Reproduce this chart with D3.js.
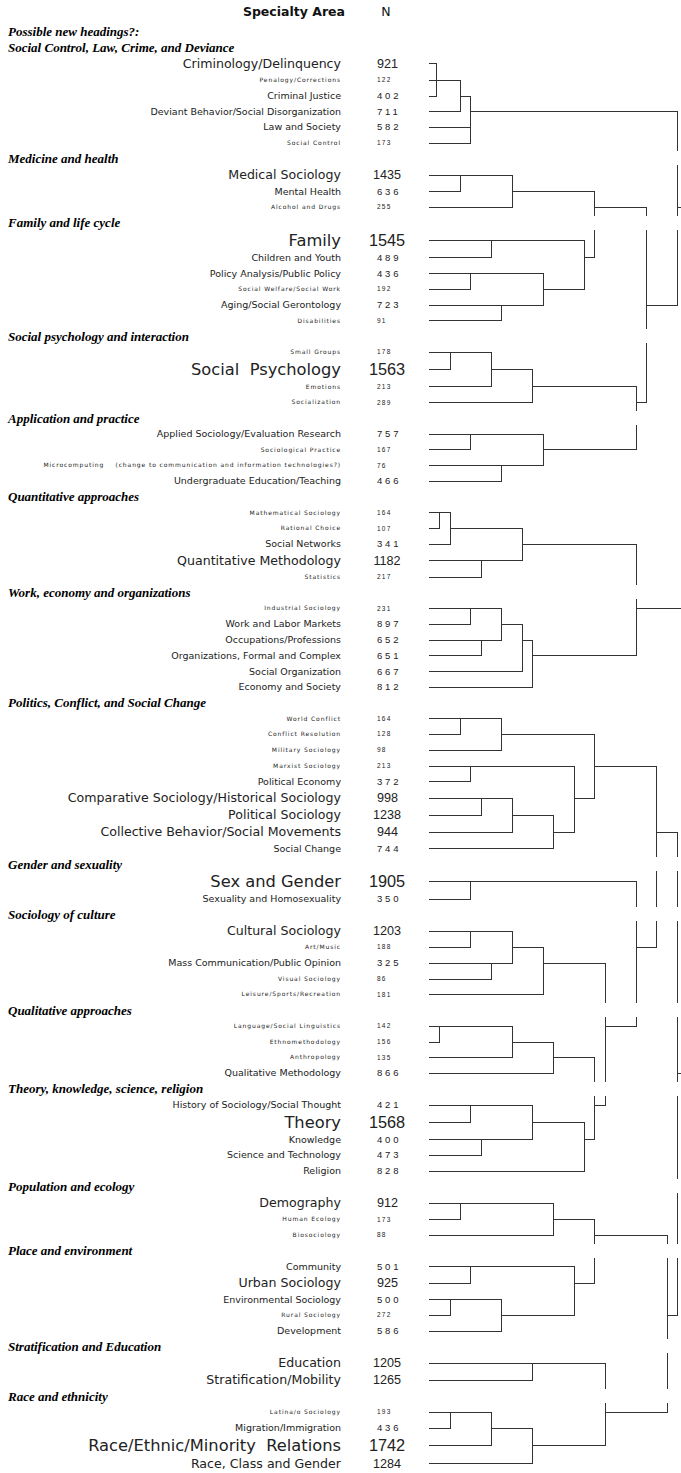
<!DOCTYPE html>
<html><head><meta charset="utf-8">
<script src="https://cdn.jsdelivr.net/npm/d3@7"></script>
<style>
html,body{margin:0;padding:0;background:#fff;}
svg{display:block;background:#fff;}
text{white-space:pre;}
</style></head><body>
<svg id="chart" width="681" height="1473"></svg>
<script>
// ---------------- DATA ----------------
const columnHeaders = ["Specialty Area", "N"];
const preface = "Possible new headings?:";
const groupHeadings = [
  "Social Control, Law, Crime, and Deviance",
  "Medicine and health",
  "Family and life cycle",
  "Social psychology and interaction",
  "Application and practice",
  "Quantitative approaches",
  "Work, economy and organizations",
  "Politics, Conflict, and Social Change",
  "Gender and sexuality",
  "Sociology of culture",
  "Qualitative approaches",
  "Theory, knowledge, science, religion",
  "Population and ecology",
  "Place and environment",
  "Stratification and Education",
  "Race and ethnicity"
];
const groupSizes = [6,3,6,4,4,5,6,9,2,5,4,5,3,5,2,4];
const specialties = [
  "Criminology/Delinquency","Penalogy/Corrections","Criminal Justice","Deviant Behavior/Social Disorganization","Law and Society","Social Control",
  "Medical Sociology","Mental Health","Alcohol and Drugs",
  "Family","Children and Youth","Policy Analysis/Public Policy","Social Welfare/Social Work","Aging/Social Gerontology","Disabilities",
  "Small Groups","Social  Psychology","Emotions","Socialization",
  "Applied Sociology/Evaluation Research","Sociological Practice","Microcomputing    (change to communication and information technologies?)","Undergraduate Education/Teaching",
  "Mathematical Sociology","Rational Choice","Social Networks","Quantitative Methodology","Statistics",
  "Industrial Sociology","Work and Labor Markets","Occupations/Professions","Organizations, Formal and Complex","Social Organization","Economy and Society",
  "World Conflict","Conflict Resolution","Military Sociology","Marxist Sociology","Political Economy","Comparative Sociology/Historical Sociology","Political Sociology","Collective Behavior/Social Movements","Social Change",
  "Sex and Gender","Sexuality and Homosexuality",
  "Cultural Sociology","Art/Music","Mass Communication/Public Opinion","Visual Sociology","Leisure/Sports/Recreation",
  "Language/Social Linguistics","Ethnomethodology","Anthropology","Qualitative Methodology",
  "History of Sociology/Social Thought","Theory","Knowledge","Science and Technology","Religion",
  "Demography","Human Ecology","Biosociology",
  "Community","Urban Sociology","Environmental Sociology","Rural Sociology","Development",
  "Education","Stratification/Mobility",
  "Latina/o Sociology","Migration/Immigration","Race/Ethnic/Minority  Relations","Race, Class and Gender"
];
const counts = [
  921,122,402,711,582,173,
  1435,636,255,
  1545,489,436,192,723,91,
  178,1563,213,289,
  757,167,76,466,
  164,107,341,1182,217,
  231,897,652,651,667,812,
  164,128,98,213,372,998,1238,944,744,
  1905,350,
  1203,188,325,86,181,
  142,156,135,866,
  421,1568,400,473,828,
  912,173,88,
  501,925,500,272,586,
  1205,1265,
  193,436,1742,1284
];
// Cluster tree: [rescaled distance (0-25), ...children]; a number is a specialty index.
const mergeTree = [26,
  [24,
    [4, [3, [0.7, 0, 2], 1, 3], 4, 5],
    [21,
      [16, [8, [3, 6, 7], 8], [15, [6, 9, 10], [11, [4, 11, 12], [7, 13, 14]]]],
      [20, [10, [6, [2, 15, 16], 17], 18], [11, [4, 19, 20], [7, 21, 22]]]
    ]
  ],
  [20,
    [9, [2, [1, 23, 24], 25], [5, 26, 27]],
    [10, [9, [7, [4, 28, 29], [5, 30, 31]], 32], 33]
  ],
  [24,
    [22,
      [16, [7, [3, 34, 35], 36], [14, [4, 37, 38], [12, [8, [5, 39, 40], 41], 42]]],
      [20,
        [4, 43, 44],
        [17,
          [11, [8, [4, 45, 46], [6, 47, 48]], 49],
          [16, [12, [8, [1, 50, 51], 52], 53], [15, [10, [4, 54, 55], [5, 56, 57]], 58]]
        ]
      ]
    ],
    [23,
      [16, [12, [3, 59, 60], 61], [14, [4, 62, 63], [7, [2, 64, 65], 66]]],
      [17, [10, 67, 68], [10, [6, [2, 69, 70], 71], 72]]
    ]
  ]
];

// ---------------- LAYOUT ----------------
const W = 681, H = 1473;
const svg = d3.select("#chart");

const fontSize = d3.scaleThreshold().domain([300, 900, 1500]).range([6, 9.5, 12.6, 16.3]);
const labelSpacing = d3.scaleThreshold().domain([300, 900]).range([0.9, 0, 0]);
const numSize = d3.scaleThreshold().domain([300, 900, 1500]).range([6.5, 9.5, 12.6, 16.3]);
const numSpacing = d3.scaleThreshold().domain([300, 900]).range([1.2, 2.8, 0]);

// rows: heading + leaves
const rows = [];
let li = 0;
groupHeadings.forEach((g, gi) => {
  rows.push({type: "heading", text: g});
  for (let k = 0; k < groupSizes[gi]; k++) {
    rows.push({type: "leaf", idx: li, name: specialties[li], n: counts[li]});
    li++;
  }
});
rows.forEach(r => {
  r.h = r.type === "heading" ? 15.8 : 15.8 + Math.max(0, fontSize(r.n) - 10) * 0.5;
});
let acc = 0;
rows.forEach((r, i) => {
  if (i > 0) acc += (rows[i - 1].h + r.h) / 2;
  r.pos = acc;
});
const y = d3.scaleLinear().domain([0, acc]).range([47, 1463]);
rows.forEach(r => r.y = y(r.pos));
const leafY = [];
rows.filter(r => r.type === "leaf").forEach(r => leafY[r.idx] = r.y);
const headingY = rows.filter(r => r.type === "heading").map(r => r.y);

// ---------------- TEXT ----------------
const g = svg.append("g");
g.append("text")
  .attr("x", 345).attr("y", 12).attr("dy", "0.35em")
  .attr("text-anchor", "end")
  .style("font-family", "'DejaVu Sans', sans-serif")
  .style("font-weight", "bold").style("font-size", "12.5px").attr("fill", "#111")
  .text(columnHeaders[0]);
g.append("text")
  .attr("x", 386).attr("y", 12).attr("dy", "0.35em")
  .attr("text-anchor", "middle")
  .style("font-family", "'DejaVu Sans', sans-serif")
  .style("font-size", "12.5px").attr("fill", "#111")
  .text(columnHeaders[1]);

const headingStyle = sel => sel
  .style("font-family", "'Liberation Serif', 'Times New Roman', serif")
  .style("font-weight", "bold").style("font-style", "italic")
  .style("font-size", "13px").attr("fill", "#000");

g.append("text").attr("x", 8).attr("y", 47 - 16).attr("dy", "0.35em")
  .call(headingStyle).text(preface);

g.selectAll("text.heading").data(rows.filter(r => r.type === "heading"))
  .join("text").attr("class", "heading")
  .attr("x", 8).attr("y", d => d.y).attr("dy", "0.35em")
  .call(headingStyle).text(d => d.text);

const leaves = rows.filter(r => r.type === "leaf");
g.selectAll("text.label").data(leaves)
  .join("text").attr("class", "label")
  .attr("x", 341).attr("y", d => d.y).attr("dy", "0.36em")
  .attr("text-anchor", "end")
  .style("font-family", "'DejaVu Sans', sans-serif")
  .style("font-size", d => fontSize(d.n) + "px")
  .style("letter-spacing", d => labelSpacing(d.n) + "px")
  .attr("fill", "#222")
  .text(d => d.name);

g.selectAll("text.num").data(leaves)
  .join("text").attr("class", "num")
  .attr("x", d => d.n >= 1000 ? 387 : 377).attr("y", d => d.y).attr("dy", "0.36em")
  .attr("text-anchor", d => d.n >= 1000 ? "middle" : "start")
  .style("font-family", "'Liberation Sans', Arial, sans-serif")
  .style("font-size", d => numSize(d.n) + "px")
  .style("letter-spacing", d => numSpacing(d.n) + "px")
  .attr("fill", "#222")
  .text(d => d.n);

// ---------------- DENDROGRAM ----------------
const x = d3.scaleLinear().domain([0, 25]).range([429, 429 + 25 * 10.33]);
const root = d3.hierarchy(mergeTree, d => Array.isArray(d) ? d.slice(1) : null);
root.eachAfter(node => {
  if (!node.children) { node.col = 0; node.row = node.data; }
  else {
    node.col = node.data[0];
    const rs = node.children.map(c => c.row);
    node.lo = d3.min(rs); node.hi = d3.max(rs);
    node.row = Math.floor((node.lo + node.hi) / 2);
  }
});

const gapHalf = 7;
function splitVertical(y1, y2) {
  let pieces = [[y1, y2]];
  headingY.forEach(hy => {
    const a = hy - gapHalf, b = hy + gapHalf;
    const next = [];
    pieces.forEach(([p, q]) => {
      if (b <= p || a >= q) next.push([p, q]);
      else {
        if (a > p) next.push([p, a]);
        if (b < q) next.push([b, q]);
      }
    });
    pieces = next;
  });
  return pieces;
}

const segs = [];
root.descendants().forEach(node => {
  if (node.parent) {
    const yy = Math.round(leafY[node.row]) + 0.5;
    segs.push([Math.round(x(node.col)), yy, Math.round(x(node.parent.col)) + 1, yy]);
  }
  if (node.children) {
    const xx = Math.round(x(node.col)) + 0.5;
    splitVertical(Math.round(leafY[node.lo]), Math.round(leafY[node.hi]) + 1)
      .forEach(([p, q]) => segs.push([xx, p, xx, q]));
  }
});

svg.append("g")
  .attr("stroke", "#333").attr("stroke-width", 1)
  .attr("shape-rendering", "crispEdges")
  .selectAll("line").data(segs).join("line")
  .attr("x1", d => d[0]).attr("y1", d => d[1])
  .attr("x2", d => d[2]).attr("y2", d => d[3]);
</script>
</body></html>
